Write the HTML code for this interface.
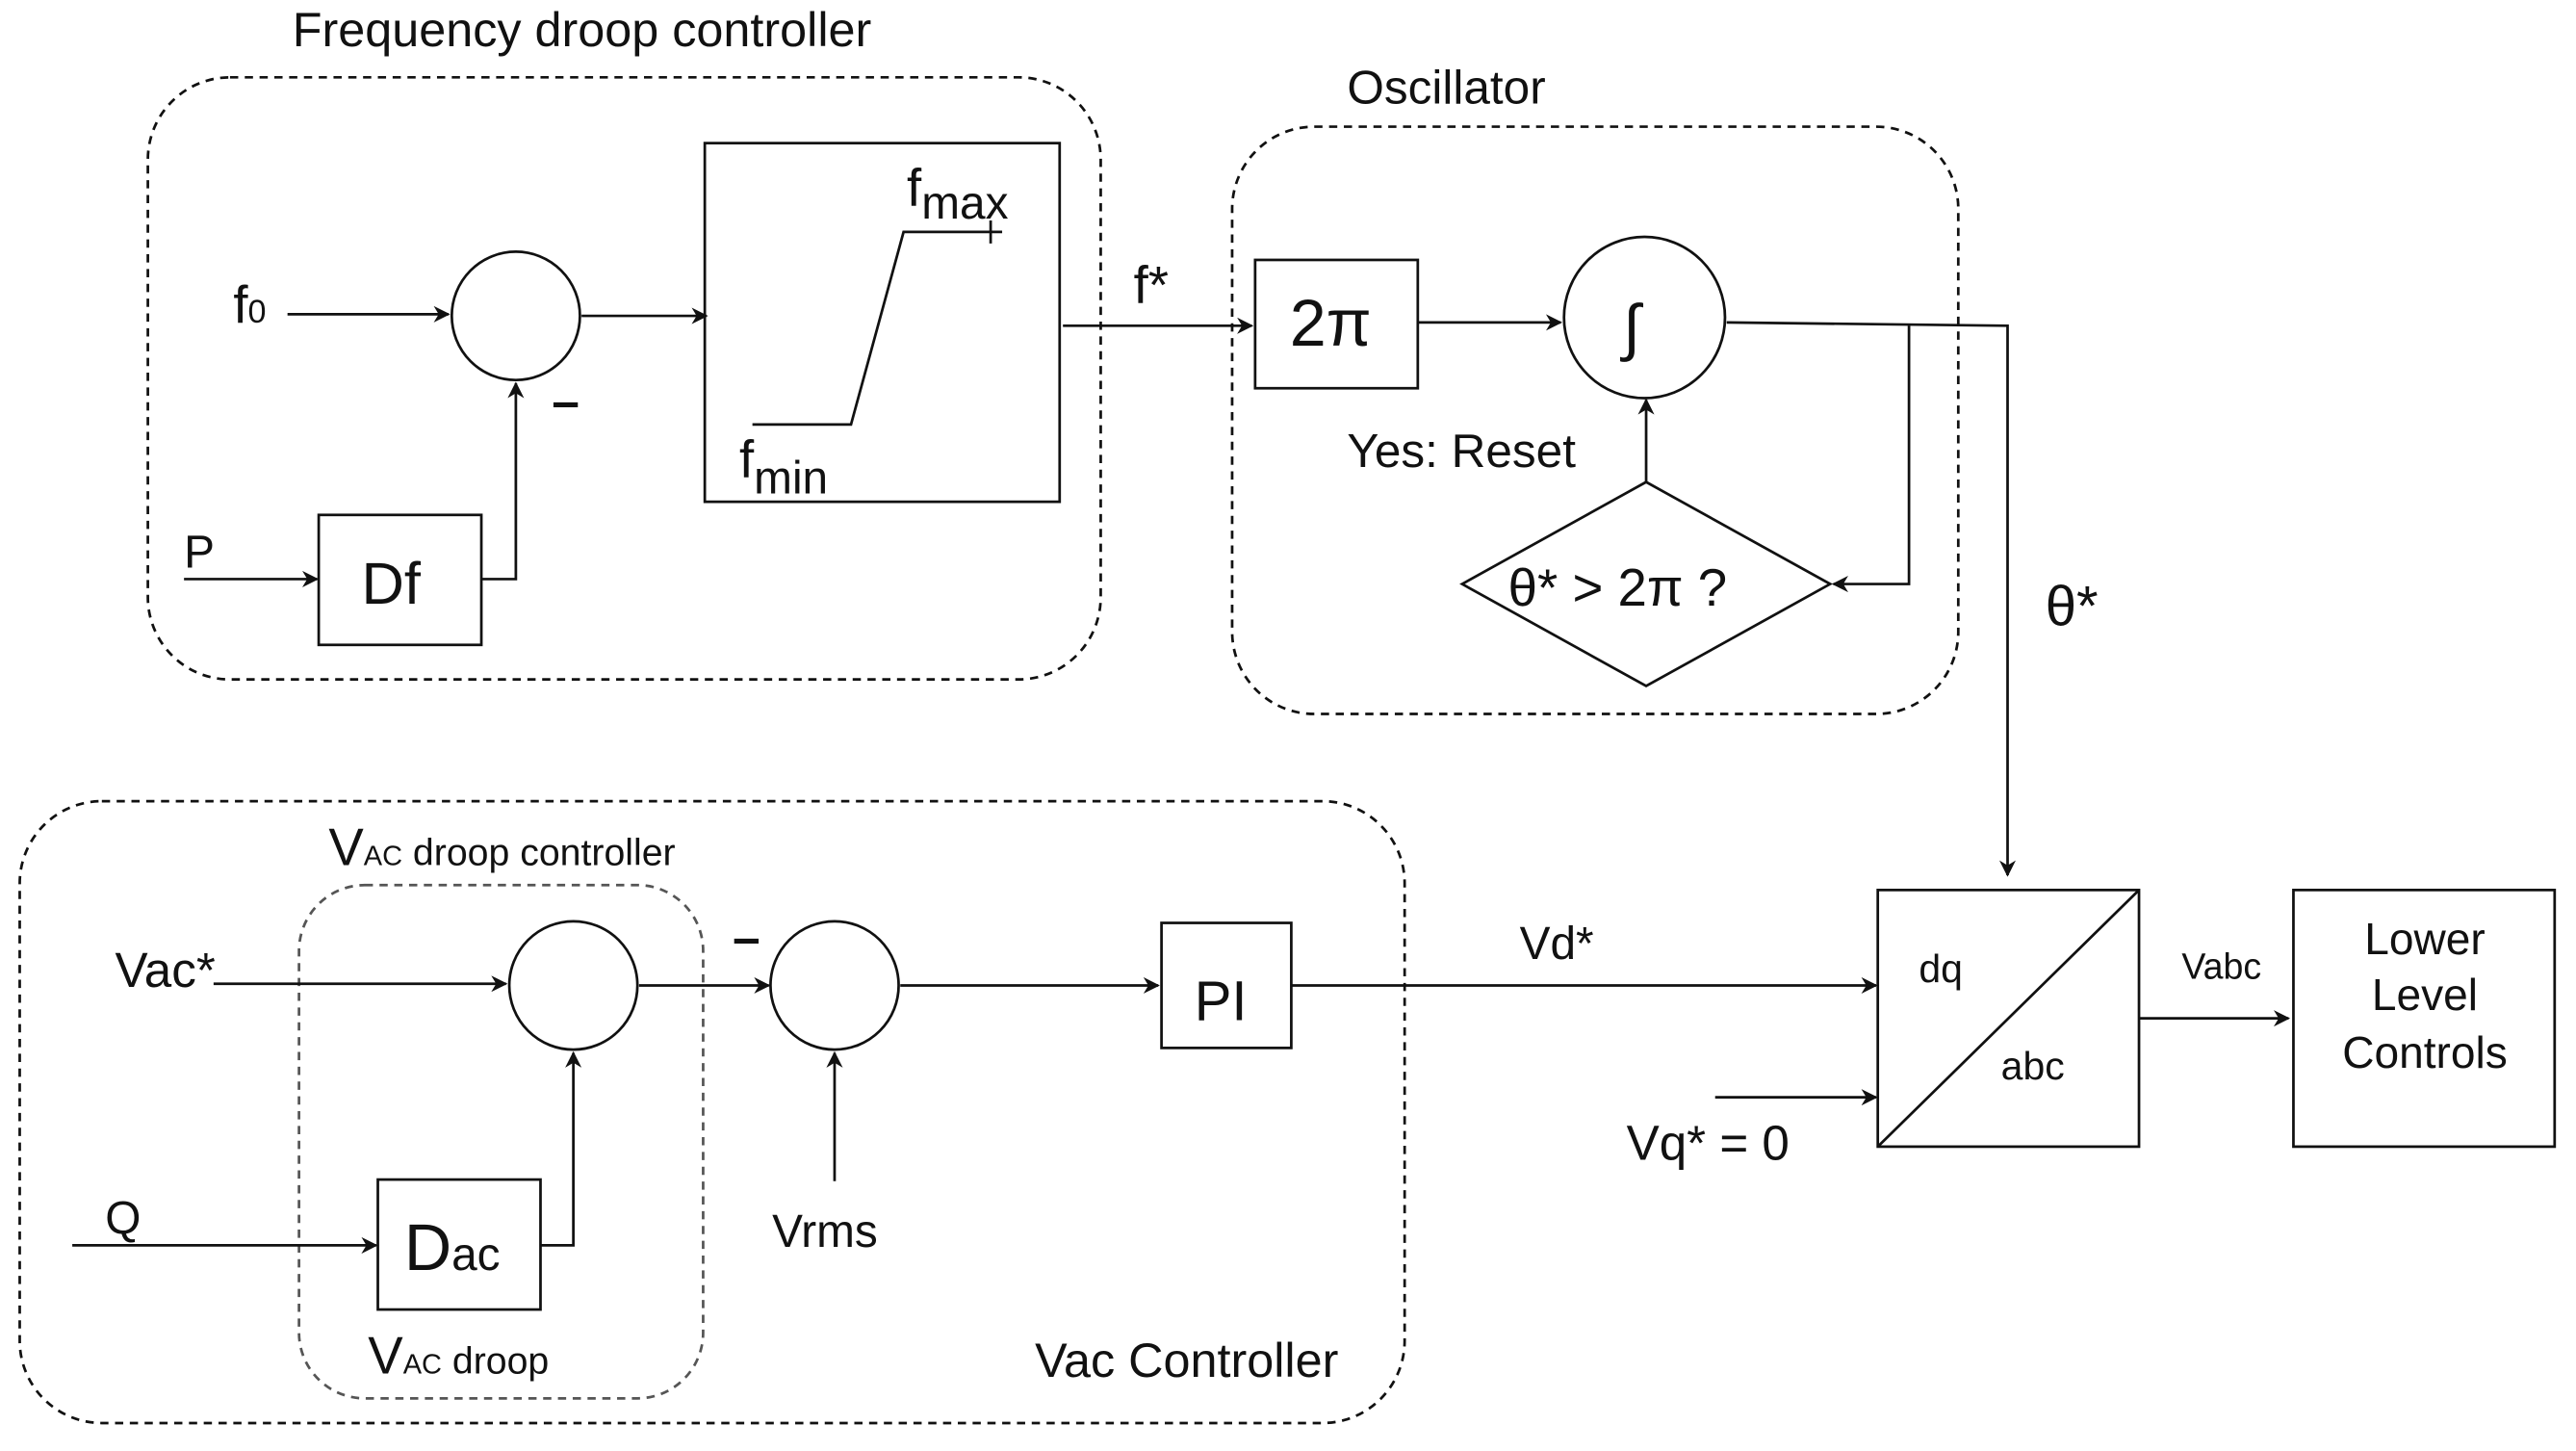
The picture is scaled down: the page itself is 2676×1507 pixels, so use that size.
<!DOCTYPE html>
<html><head><meta charset="utf-8"><style>
html,body{margin:0;padding:0;background:#fff;}
svg{display:block;}
text{font-family:"Liberation Sans",sans-serif;fill:#111;}
</style></head><body>
<svg width="2676" height="1507" viewBox="0 0 1568 882" preserveAspectRatio="none" xmlns="http://www.w3.org/2000/svg">
<defs>
<marker id="a" markerWidth="10" markerHeight="10" refX="9" refY="5" orient="auto" markerUnits="userSpaceOnUse">
<path d="M0,0 L10,5 L0,10 L3,5 z" fill="#111"/></marker>
</defs>
<g fill="none" stroke="#111" stroke-width="1.6">
<rect x="90" y="47" width="580" height="366" rx="50" stroke-dasharray="5,4"/>
<rect x="750" y="77" width="442" height="357" rx="50" stroke-dasharray="5,4"/>
<rect x="12" y="487" width="843" height="378" rx="50" stroke-dasharray="5,4"/>
<rect x="182" y="538" width="246" height="312" rx="40" stroke-dasharray="5,4" stroke="#555"/>
<line x1="175" y1="191" x2="273" y2="191" marker-end="url(#a)"/>
<circle cx="314" cy="192" r="39"/>
<line x1="354" y1="192" x2="430" y2="192" marker-end="url(#a)"/>
<rect x="429" y="87" width="216" height="218"/>
<polyline points="458,258 518,258 550,141 610,141"/>
<line x1="603" y1="134" x2="603" y2="148"/>
<line x1="112" y1="352" x2="193" y2="352" marker-end="url(#a)"/>
<rect x="194" y="313" width="99" height="79"/>
<polyline points="293,352 314,352 314,233" marker-end="url(#a)"/>
<line x1="647" y1="198" x2="762" y2="198" marker-end="url(#a)"/>
<rect x="764" y="158" width="99" height="78"/>
<line x1="863" y1="196" x2="950" y2="196" marker-end="url(#a)"/>
<circle cx="1001" cy="193" r="49"/>
<polyline points="1051,196 1222,198 1222,532" marker-end="url(#a)"/>
<polyline points="1162,198 1162,355 1116,355" marker-end="url(#a)"/>
<polygon points="890,355 1002,293 1114,355 1002,417"/>
<line x1="1002" y1="293" x2="1002" y2="243" marker-end="url(#a)"/>
<line x1="130" y1="598" x2="308" y2="598" marker-end="url(#a)"/>
<circle cx="349" cy="599" r="39"/>
<line x1="389" y1="599" x2="468" y2="599" marker-end="url(#a)"/>
<circle cx="508" cy="599" r="39"/>
<line x1="548" y1="599" x2="705" y2="599" marker-end="url(#a)"/>
<rect x="707" y="561" width="79" height="76"/>
<line x1="786" y1="599" x2="1142" y2="599" marker-end="url(#a)"/>
<line x1="508" y1="718" x2="508" y2="640" marker-end="url(#a)"/>
<line x1="44" y1="757" x2="229" y2="757" marker-end="url(#a)"/>
<rect x="230" y="717" width="99" height="79"/>
<polyline points="329,757 349,757 349,640" marker-end="url(#a)"/>
<rect x="1143" y="541" width="159" height="156"/>
<line x1="1143" y1="697" x2="1302" y2="541"/>
<line x1="1044" y1="667" x2="1142" y2="667" marker-end="url(#a)"/>
<line x1="1302" y1="619" x2="1393" y2="619" marker-end="url(#a)"/>
<rect x="1396" y="541" width="159" height="156"/>
</g>
<text x="178" y="28" font-size="29.5">Frequency droop controller</text>
<text x="142" y="196" font-size="32">f<tspan font-size="20">0</tspan></text>
<text x="336" y="254" font-size="30" font-weight="bold">–</text>
<text x="552" y="125" font-size="32">f<tspan font-size="28" dy="8">max</tspan></text>
<text x="450" y="290" font-size="32">f<tspan font-size="28" dy="10">min</tspan></text>
<text x="112" y="345" font-size="28">P</text>
<text x="220" y="367" font-size="36">Df</text>
<text x="690" y="184" font-size="32">f*</text>
<text x="820" y="63" font-size="29">Oscillator</text>
<text x="785" y="210" font-size="40">2π</text>
<text x="988" y="212" font-size="38">∫</text>
<text x="820" y="284" font-size="29">Yes: Reset</text>
<text x="918" y="368" font-size="32">θ* &gt; 2π ?</text>
<text x="1245" y="380" font-size="34">θ*</text>
<text x="200" y="526" font-size="32">V<tspan font-size="17">AC</tspan><tspan font-size="23"> droop controller</tspan></text>
<text x="70" y="600" font-size="30">Vac*</text>
<text x="446" y="580" font-size="30" font-weight="bold">–</text>
<text x="727" y="620" font-size="34">PI</text>
<text x="925" y="583" font-size="28">Vd*</text>
<text x="470" y="758" font-size="28">Vrms</text>
<text x="64" y="750" font-size="28">Q</text>
<text x="246" y="772" font-size="40">D<tspan font-size="28">ac</tspan></text>
<text x="224" y="835" font-size="32">V<tspan font-size="17">AC</tspan><tspan font-size="23"> droop</tspan></text>
<text x="630" y="837" font-size="29.5">Vac Controller</text>
<text x="1168" y="597" font-size="24">dq</text>
<text x="1218" y="656" font-size="24">abc</text>
<text x="990" y="705" font-size="30">Vq* = 0</text>
<text x="1328" y="595" font-size="22">Vabc</text>
<text x="1476" y="580" font-size="27" text-anchor="middle">Lower</text>
<text x="1476" y="614" font-size="27" text-anchor="middle">Level</text>
<text x="1476" y="649" font-size="27" text-anchor="middle">Controls</text>
</svg>
</body></html>
